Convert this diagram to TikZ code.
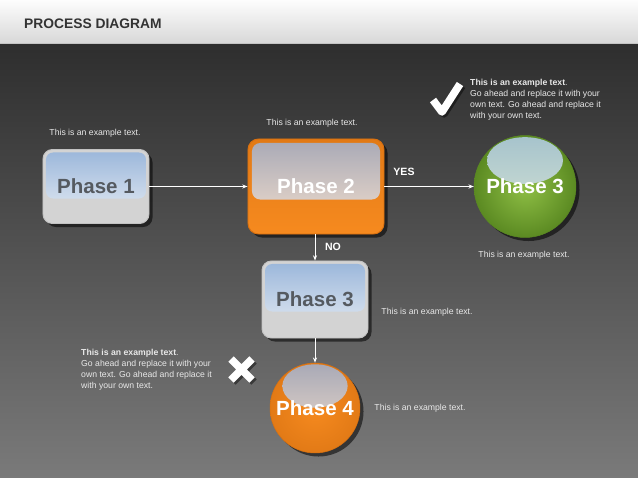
\documentclass[tikz,border=0pt]{standalone}
\usepackage{fontspec}
\setmainfont{Liberation Sans}
\usetikzlibrary{arrows.meta,shadows}

\definecolor{bgtop}{HTML}{2E2E2E}
\definecolor{bgbot}{HTML}{7A7A7A}
\definecolor{hdtop}{HTML}{FDFDFD}
\definecolor{hdbot}{HTML}{D8D8D8}
\definecolor{hdline}{HTML}{C4C4C4}
\definecolor{titlegray}{HTML}{333333}
\definecolor{txtgray}{HTML}{E8E8E8}
\definecolor{boxgray}{HTML}{D3D3D3}
\definecolor{boxedge}{HTML}{C2C2C2}
\definecolor{glossblue}{HTML}{9AB6DA}
\definecolor{glosspale}{HTML}{EAEFF5}
\definecolor{phasegray}{HTML}{555A60}
\definecolor{orangebase}{HTML}{F68A1F}
\definecolor{orangedark}{HTML}{E27A16}
\definecolor{orangeedge}{HTML}{D9700F}
\definecolor{glosslav}{HTML}{A8A9B6}
\definecolor{glosspeach}{HTML}{F6E1CE}
\definecolor{greenlight}{HTML}{8FBF45}
\definecolor{greendark}{HTML}{5B8A22}
\definecolor{glossteal}{HTML}{A6C3CC}
\definecolor{glossmint}{HTML}{DCE8D6}

\tikzset{
    smalltext/.style={text=txtgray, font=\fontsize{7.4}{9.35}\selectfont, inner sep=0pt},
    blocktext/.style={smalltext, align=left, anchor=north west},
    phasefont/.style={font=\fontsize{17.5}{20}\selectfont\bfseries},
    flow/.style={draw=white, line width=0.8pt, -{Stealth[length=4.5pt,width=3.5pt]}},
    answer/.style={text=white, font=\fontsize{9}{10}\selectfont\bfseries, inner sep=0pt},
    tickmark/.style={white, line width=6.5pt},
    tickshadow/.style={black, opacity=0.45, line width=6.5pt},
    boxshadow/.style={drop shadow={shadow xshift=3pt, shadow yshift=-3pt, opacity=0.55, fill=black}},
    graybox/.style={rounded corners=8pt, draw=boxedge, fill=boxgray, line width=0.8pt,
        minimum width=3.18cm, minimum height=2.22cm, boxshadow, phasefont, text=phasegray,
        path picture={\shade[top color=glossblue, bottom color=glosspale, rounded corners=6pt]
            ([shift={(3,3)}]path picture bounding box.north west) rectangle
            ([shift={(-3,12)}]path picture bounding box.east);}},
    orangebox/.style={rounded corners=9pt, draw=orangeedge, top color=orangedark, bottom color=orangebase,
        line width=0.8pt, minimum width=4.08cm, minimum height=2.85cm, boxshadow, phasefont, text=white,
        path picture={\shade[top color=glosslav, bottom color=glosspeach, rounded corners=7pt]
            ([shift={(4,4)}]path picture bounding box.north west) rectangle
            ([shift={(-4,13)}]path picture bounding box.east);}},
    greenball/.style={circle, inner sep=0pt, minimum size=3.06cm, draw=greendark, line width=0.4pt,
        shade, inner color=greenlight, outer color=greendark, boxshadow, phasefont, text=white,
        path picture={\shade[top color=glossteal, bottom color=glossmint]
            ([shift={(0,-26)}]path picture bounding box.center) ellipse [x radius=1.14cm, y radius=0.7cm];}},
    orangeball/.style={circle, inner sep=0pt, minimum size=2.7cm, draw=orangeedge, line width=0.4pt,
        shade, inner color=orangebase, outer color=orangedark, boxshadow, phasefont, text=white,
        path picture={\shade[top color=glosslav, bottom color=glosspeach]
            ([shift={(0,-22)}]path picture bounding box.center) ellipse [x radius=0.98cm, y radius=0.65cm];}},
}

\begin{document}
\begin{tikzpicture}[x=0.03cm, y=-0.03cm]
    \useasboundingbox (0, 0) rectangle (638, 478);
    \shade[top color=bgtop, bottom color=bgbot] (0, 44) rectangle (638, 478);
    \shade[top color=hdtop, bottom color=hdbot] (0, 0) rectangle (638, 43);
    \draw[hdline, line width=1.2pt] (0, 43.5) -- (638, 43.5);
    \node[anchor=west, inner sep=0pt, text=titlegray, font=\fontsize{11.8}{13}\selectfont\bfseries] (title) at (24, 24) {PROCESS DIAGRAM};

    \node[graybox] (phase1) at (96, 186.5) {Phase 1};
    \node[orangebox] (phase2) at (316, 186.5) {Phase 2};
    \node[greenball] (phase3) at (525, 186.5) {Phase 3};
    \node[graybox, minimum height=2.31cm] (phase3b) at (315, 299.5) {Phase 3};
    \node[orangeball] (phase4) at (315, 408) {Phase 4};

    \draw[flow] (phase1.east) -- (phase2.west);
    \draw[flow] (phase2.east) -- (phase3.west);
    \draw[flow] (phase3b.north |- phase2.south) -- (phase3b.north);
    \draw[flow] (phase3b.south) -- (phase4.north);
    \node[answer] (yes) at (404, 172) {YES};
    \node[answer] (no) at (333, 247) {NO};

    \node[smalltext] (text1) at (95, 133) {This is an example text.};
    \node[smalltext] (text2) at (312, 123) {This is an example text.};
    \node[smalltext] (text3) at (524, 255) {This is an example text.};
    \node[smalltext] (text4) at (427, 312) {This is an example text.};
    \node[smalltext] (text5) at (420, 408) {This is an example text.};
    \node[blocktext] (note1) at (470, 79) {\textbf{This is an example text}.\\Go ahead and replace it with your\\own text. Go ahead and replace it\\with your own text.};
    \node[blocktext] (note2) at (81, 349) {\textbf{This is an example text}.\\Go ahead and replace it with your\\own text. Go ahead and replace it\\with your own text.};

    % check mark and cross
    \draw[tickshadow, line join=round] (435, 102) -- (444, 114) -- (462, 86);
    \draw[tickmark, line join=round] (433, 100) -- (442, 112) -- (460, 84);
    \draw[tickshadow] (233, 361) -- (254, 382) (254, 361) -- (233, 382);
    \draw[tickmark] (231, 359) -- (252, 380) (252, 359) -- (231, 380);
\end{tikzpicture}
\end{document}
